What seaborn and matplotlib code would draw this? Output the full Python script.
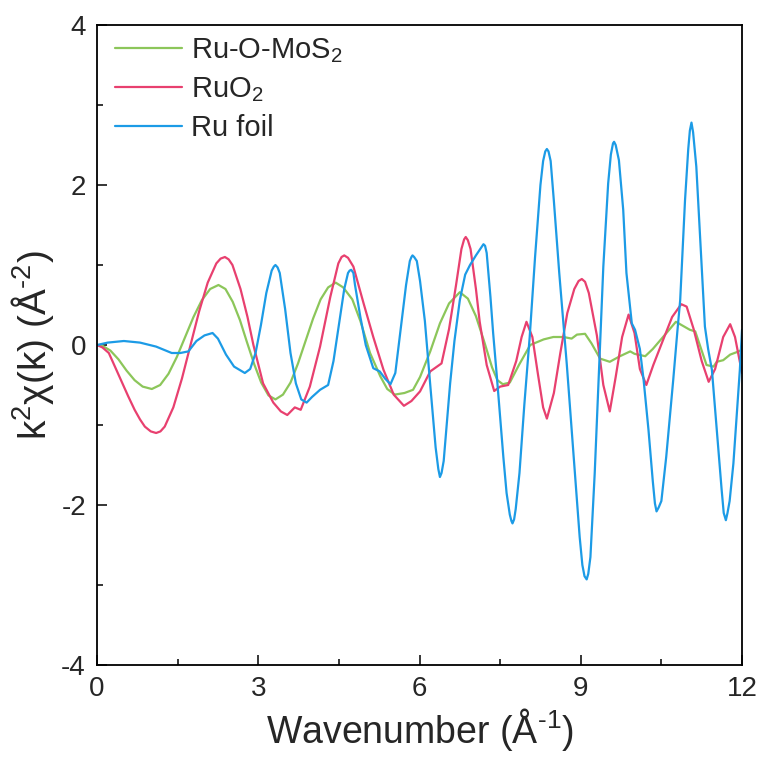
import numpy as np
import pandas as pd
import matplotlib
matplotlib.use("Agg")
import matplotlib.pyplot as plt
import seaborn as sns
from matplotlib.ticker import MultipleLocator

# ---------------- data ----------------
k_mos2 = [0.0, 0.1, 0.25, 0.4, 0.55, 0.7, 0.85, 1.02, 1.175, 1.33, 1.485, 1.64, 1.795, 1.95, 2.105,
          2.26, 2.39, 2.525, 2.66, 2.79, 2.925, 3.055, 3.19, 3.32, 3.46, 3.60, 3.74, 3.88, 4.02,
          4.16, 4.30, 4.44, 4.58, 4.75, 4.9, 5.08, 5.27, 5.40, 5.54, 5.72, 5.88, 6.01, 6.2, 6.38,
          6.55, 6.75, 6.9, 7.05, 7.2, 7.35, 7.45, 7.55, 7.68, 7.85, 8.06, 8.31, 8.49, 8.68, 8.83,
          8.93, 9.08, 9.2, 9.36, 9.54, 9.73, 9.92, 10.0, 10.20, 10.34, 10.48, 10.62, 10.77, 10.9,
          11.03, 11.13, 11.34, 11.47, 11.53, 11.65, 11.78, 11.9, 12.0]
chi_mos2 = [0.0, -0.01, -0.07, -0.18, -0.32, -0.44, -0.52, -0.55, -0.50, -0.36, -0.15, 0.10, 0.35, 0.56, 0.70,
            0.75, 0.70, 0.54, 0.31, 0.035, -0.24, -0.47, -0.63, -0.68, -0.62, -0.47, -0.23, 0.05, 0.33,
            0.57, 0.72, 0.78, 0.72, 0.57, 0.30, -0.10, -0.39, -0.55, -0.62, -0.60, -0.56, -0.40, -0.08, 0.27,
            0.52, 0.66, 0.58, 0.36, 0.05, -0.28, -0.44, -0.49, -0.47, -0.25, 0.0, 0.07, 0.10, 0.10, 0.08,
            0.13, 0.14, 0.02, -0.17, -0.21, -0.14, -0.08, -0.11, -0.14, -0.05, 0.06, 0.17, 0.29, 0.24,
            0.19, 0.17, -0.25, -0.27, -0.21, -0.19, -0.12, -0.09, -0.06]

k_ruo2 = [0.0, 0.1, 0.22, 0.34, 0.46, 0.58, 0.70, 0.80, 0.89, 1.0, 1.10, 1.18, 1.26, 1.42, 1.58, 1.74, 1.90,
          2.06, 2.22, 2.30, 2.38, 2.45, 2.52, 2.67, 2.80, 2.91, 3.09, 3.28, 3.42, 3.54, 3.68, 3.79, 3.96, 4.15,
          4.34, 4.49, 4.55, 4.60, 4.67, 4.77, 4.96, 5.14, 5.33, 5.52, 5.71, 5.85, 6.01, 6.20, 6.41, 6.55, 6.68,
          6.78, 6.83, 6.86, 6.90, 6.95, 7.05, 7.12, 7.25, 7.39, 7.50, 7.65, 7.80, 7.90, 7.99, 8.10, 8.20, 8.30,
          8.37, 8.50, 8.62, 8.75, 8.88, 8.96, 9.02, 9.08, 9.15, 9.30, 9.42, 9.54, 9.65, 9.77, 9.89, 10.0, 10.1,
          10.22, 10.35, 10.53, 10.70, 10.87, 10.97, 11.1, 11.25, 11.38, 11.5, 11.65, 11.78, 11.87, 12.0]
chi_ruo2 = [0.0, -0.03, -0.10, -0.28, -0.46, -0.64, -0.81, -0.93, -1.02, -1.08, -1.10, -1.08, -1.02, -0.78, -0.42, 0.0, 0.42,
            0.78, 1.02, 1.08, 1.10, 1.07, 1.00, 0.70, 0.35, 0.0, -0.48, -0.72, -0.83, -0.875, -0.78, -0.81, -0.52, -0.02,
            0.60, 1.02, 1.10, 1.12, 1.09, 0.98, 0.52, 0.10, -0.31, -0.62, -0.76, -0.70, -0.58, -0.33, -0.23, 0.20, 0.75,
            1.20, 1.32, 1.35, 1.31, 1.20, 0.70, 0.29, -0.25, -0.575, -0.52, -0.50, -0.20, 0.10, 0.29, 0.10, -0.35, -0.78,
            -0.92, -0.60, -0.10, 0.40, 0.70, 0.80, 0.825, 0.79, 0.65, 0.12, -0.50, -0.83, -0.40, 0.10, 0.38, 0.15, -0.30,
            -0.50, -0.25, 0.06, 0.35, 0.51, 0.48, 0.20, -0.20, -0.46, -0.30, 0.10, 0.26, 0.10, -0.35]

k_foil = [0.0, 0.2, 0.5, 0.8, 1.1, 1.39, 1.55, 1.70, 1.85, 2.0, 2.15, 2.25, 2.4, 2.55, 2.75, 2.85,
          2.95, 3.05, 3.15, 3.25, 3.29, 3.32, 3.36, 3.40, 3.50, 3.60, 3.70, 3.80, 3.90, 4.0, 4.15, 4.30, 4.40,
          4.50, 4.60, 4.67, 4.70, 4.73, 4.77, 4.80, 4.9, 5.0, 5.14, 5.26, 5.36, 5.46, 5.55, 5.65, 5.75, 5.82,
          5.85, 5.87, 5.90, 5.95, 6.01, 6.1, 6.2, 6.3, 6.35, 6.38, 6.41, 6.45, 6.57, 6.65, 6.75, 6.85, 6.94, 7.05, 7.15,
          7.19, 7.22, 7.25, 7.32, 7.37, 7.44, 7.50, 7.56, 7.62, 7.68, 7.71, 7.73, 7.76, 7.79, 7.86, 7.95, 8.05, 8.15, 8.25,
          8.30, 8.34, 8.37, 8.40, 8.44, 8.50, 8.60, 8.74, 8.88, 8.98, 9.03, 9.07, 9.11, 9.14, 9.18, 9.26, 9.34, 9.42, 9.51,
          9.56, 9.60, 9.62, 9.65, 9.71, 9.79, 9.85, 9.95, 10.01, 10.10, 10.17, 10.26, 10.34, 10.38, 10.41, 10.45, 10.50, 10.59,
          10.72, 10.80, 10.85, 10.94, 11.0, 11.03, 11.06, 11.09, 11.15, 11.25, 11.31, 11.37, 11.44, 11.53, 11.62,
          11.66, 11.70, 11.73, 11.77, 11.84, 11.92, 11.96, 12.0]
chi_foil = [0.0, 0.03, 0.05, 0.03, -0.02, -0.10, -0.10, -0.08, 0.05, 0.12, 0.15, 0.08, -0.12, -0.27, -0.35, -0.30,
            -0.10, 0.25, 0.65, 0.93, 0.98, 1.0, 0.97, 0.90, 0.45, -0.10, -0.48, -0.68, -0.72, -0.65, -0.56, -0.50, -0.20,
            0.25, 0.70, 0.90, 0.93, 0.94, 0.90, 0.75, 0.35, 0.0, -0.29, -0.33, -0.42, -0.49, -0.35, 0.20, 0.75, 1.05,
            1.10, 1.12, 1.10, 1.05, 0.80, 0.30, -0.50, -1.28, -1.55, -1.65, -1.60, -1.45, -0.48, 0.05, 0.56, 0.88, 1.0, 1.12, 1.22,
            1.26, 1.24, 1.15, 0.60, 0.15, -0.40, -0.90, -1.40, -1.85, -2.12, -2.20, -2.23, -2.18, -2.05, -1.60, -0.75, 0.10, 1.10, 2.00,
            2.30, 2.42, 2.45, 2.42, 2.30, 1.80, 0.90, -0.24, -1.50, -2.40, -2.75, -2.89, -2.93, -2.86, -2.65, -1.60, -0.30, 0.98, 2.02,
            2.38, 2.52, 2.54, 2.50, 2.31, 1.69, 0.90, 0.27, 0.19, -0.05, -0.44, -1.06, -1.70, -1.98, -2.08, -2.03, -1.95, -1.40,
            -0.44, 0.19, 0.56, 1.81, 2.45, 2.68, 2.78, 2.66, 2.23, 0.98, 0.23, -0.05, -0.31, -1.06, -1.80,
            -2.10, -2.19, -2.10, -1.95, -1.48, -0.70, -0.31, 0.19]

labels = ["Ru-O-MoS$_2$", "RuO$_2$", "Ru foil"]
colors = ["#8cc65a", "#e8406f", "#1c9be6"]

x_ticks = [0, 3, 6, 9, 12]
y_ticks = [-4, -2, 0, 2, 4]

df = pd.concat([
    pd.DataFrame({"k": k_mos2, "chi": chi_mos2, "sample": labels[0]}),
    pd.DataFrame({"k": k_ruo2, "chi": chi_ruo2, "sample": labels[1]}),
    pd.DataFrame({"k": k_foil, "chi": chi_foil, "sample": labels[2]}),
], ignore_index=True)

# ---------------- style ----------------
sns.set_style("ticks")
plt.rcParams["font.family"] = ["Liberation Sans", "DejaVu Sans"]
plt.rcParams["mathtext.fontset"] = "custom"
plt.rcParams["mathtext.rm"] = "Liberation Sans"
plt.rcParams["mathtext.it"] = "Liberation Sans:italic"
plt.rcParams["mathtext.default"] = "rm"
plt.rcParams["axes.unicode_minus"] = False

fig = plt.figure(figsize=(7.64, 7.67), dpi=100)
ax = fig.add_axes([97 / 764, 1 - 665 / 767, (742 - 97) / 764, (665 - 25) / 767])

sns.lineplot(data=df, x="k", y="chi", hue="sample", hue_order=labels,
             palette=colors, sort=False, estimator=None, linewidth=1.6, ax=ax)

ax.set_xlim(0, 12)
ax.set_ylim(-4, 4)
ax.set_xticks(x_ticks)
ax.set_yticks(y_ticks)
ax.xaxis.set_minor_locator(MultipleLocator(1.5))
ax.yaxis.set_minor_locator(MultipleLocator(1))
ax.tick_params(which="major", direction="in", length=7, width=1.3, labelsize=20,
               top=False, right=False)
ax.tick_params(axis="x", which="major", pad=8)
ax.tick_params(axis="y", which="major", pad=8)
ax.tick_params(which="minor", direction="in", length=4, width=1.3, top=False, right=False)
for s in ax.spines.values():
    s.set_visible(True)
    s.set_linewidth(1.3)
    s.set_color("black")

ax.set_xlabel(r"Wavenumber (Å$^{\text{-}1}$)", fontsize=27, labelpad=3)
ax.set_ylabel(r"k$^{2}$χ(k) (Å$^{\text{-}2}$)", fontsize=28, labelpad=4)

leg = ax.legend(loc="upper left", bbox_to_anchor=(-0.002, 1.012), frameon=False, fontsize=21,
                handlelength=2.3, handletextpad=0.3, labelspacing=0.34, borderaxespad=0.25)
for line in leg.get_lines():
    line.set_linewidth(1.6)

fig.savefig("out.png", dpi=100)
